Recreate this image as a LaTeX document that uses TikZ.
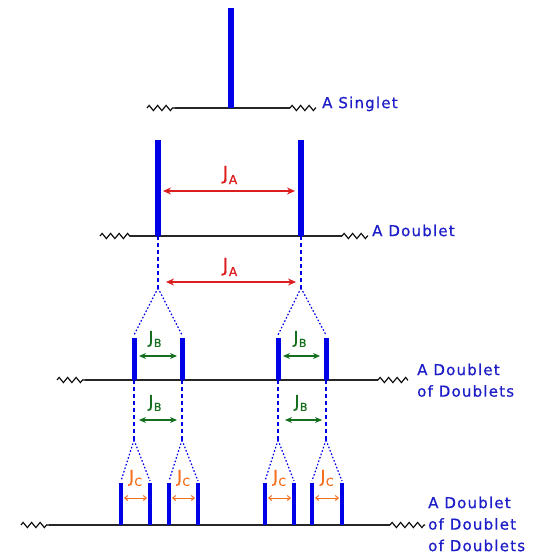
\documentclass[tikz,border=0pt]{standalone}
\usepackage{fontspec}
\setmainfont{DejaVu Sans}
\usetikzlibrary{arrows.meta,decorations.pathmorphing}
\definecolor{peakblue}{RGB}{0,0,230}
\definecolor{txtblue}{RGB}{30,30,200}
\definecolor{jared}{RGB}{220,30,30}
\definecolor{jbgreen}{RGB}{20,110,30}
\definecolor{jcorange}{RGB}{245,110,30}
\begin{document}
\begin{tikzpicture}[x=1pt,y=-1pt,
  zig/.style={decorate,decoration={zigzag,segment length=8.5pt,amplitude=2.6pt},line width=1.1pt,black},
  baseln/.style={line width=1.4pt,black!85},
  peak/.style={line width=#1,peakblue},
  vdash/.style={peakblue,line width=1.2pt,dash pattern=on 4pt off 3pt},
  vdot/.style={peakblue,line width=1.2pt,dash pattern=on 1.6pt off 2pt},
  lab/.style={inner sep=0pt,text=txtblue,font=\fontsize{15}{21.5}\selectfont\addfontfeatures{LetterSpace=8,FakeBold=0.8},align=left,anchor=north west},
  jA/.style={jared,line width=1.4pt,{Stealth[length=8pt,width=7pt]}-{Stealth[length=8pt,width=7pt]}},
  jB/.style={jbgreen,line width=1.4pt,{Stealth[length=7pt,width=6pt]}-{Stealth[length=7pt,width=6pt]}},
  jC/.style={jcorange,line width=1pt,{Straight Barb[length=3pt,width=5pt]}-{Straight Barb[length=3pt,width=5pt]}},
  jlabA/.style={inner sep=0pt,text=jared,font=\fontsize{19}{19}\selectfont\addfontfeatures{FakeBold=0.8}},
  jlabB/.style={inner sep=0pt,text=jbgreen,font=\fontsize{17}{17}\selectfont\addfontfeatures{FakeBold=0.8}},
  jlabC/.style={inner sep=0pt,text=jcorange,font=\fontsize{17}{17}\selectfont\addfontfeatures{FakeBold=0.8}},
]
\useasboundingbox (0,0) rectangle (533,556);

% ---------- Singlet ----------
\coordinate (s1z1) at (147,108); \coordinate (s1a) at (175,108);
\coordinate (s1b) at (290,108); \coordinate (s1z2) at (316,108);
\draw[zig] (s1z1) -- (s1a); \draw[baseln] (s1a) -- (s1b); \draw[zig] (s1b) -- (s1z2);
\coordinate (p0t) at (231,8); \coordinate (p0b) at (231,108);
\draw[peak=6.5pt] (p0t) -- (p0b);
\node[lab] (tsing) at (322,96.5) {A Singlet};

% ---------- Doublet ----------
\coordinate (s2z1) at (100,236); \coordinate (s2a) at (130,236);
\coordinate (s2b) at (342,236); \coordinate (s2z2) at (368,236);
\draw[zig] (s2z1) -- (s2a); \draw[baseln] (s2a) -- (s2b); \draw[zig] (s2b) -- (s2z2);
\foreach \n/\x in {1/158,2/301}{
  \coordinate (d\n t) at (\x,140); \coordinate (d\n b) at (\x,236);
  \draw[peak=5.5pt] (d\n t) -- (d\n b);
  \coordinate (d\n ap) at (\x,288);
  \draw[vdash] (d\n b) -- (d\n ap);
}
\node[lab] (tdoub) at (372,224.5) {A Doublet};
\coordinate (ja1l) at (163,191); \coordinate (ja1r) at (295,191);
\draw[jA] (ja1l) -- (ja1r);
\node[jlabA] (JA1) at (230,175) {J\kern0.5pt\raisebox{-4.5pt}{\fontsize{12.5}{12.5}\selectfont A}};
\coordinate (ja2l) at (166,282); \coordinate (ja2r) at (296,282);
\draw[jA] (ja2l) -- (ja2r);
\node[jlabA] (JA2) at (230,267) {J\kern0.5pt\raisebox{-4.5pt}{\fontsize{12.5}{12.5}\selectfont A}};

% ---------- Doublet of doublets ----------
\coordinate (s3z1) at (57,380); \coordinate (s3a) at (85,380);
\coordinate (s3b) at (378,380); \coordinate (s3z2) at (408,380);
\draw[zig] (s3z1) -- (s3a); \draw[baseln] (s3a) -- (s3b); \draw[zig] (s3b) -- (s3z2);
\foreach \n/\x/\m in {1/134/1,2/182/1,3/278/2,4/326/2}{
  \coordinate (dd\n t) at (\x,338); \coordinate (dd\n b) at (\x,380);
  \draw[peak=5pt] (dd\n t) -- (dd\n b);
  \draw[vdot] (d\m ap) -- (\x,335);
  \coordinate (dd\n ap) at (\x,440);
  \draw[vdash] (dd\n b) -- (dd\n ap);
}
\node[lab] (tdd) at (417,363.5) {A Doublet\\of Doublets};
\foreach \n/\xl/\xr/\xc in {1/139/177/155,2/283/320/300}{
  \coordinate (jb\n l) at (\xl,356); \coordinate (jb\n r) at (\xr,356);
  \draw[jB] (jb\n l) -- (jb\n r);
  \node[jlabB] (JB\n) at (\xc,339) {J\kern0.4pt\raisebox{-3.5pt}{\fontsize{11}{11}\selectfont B}};
}
\foreach \n/\xl/\xr/\xc in {3/139/177/155,4/285/322/301}{
  \coordinate (jb\n l) at (\xl,420); \coordinate (jb\n r) at (\xr,420);
  \draw[jB] (jb\n l) -- (jb\n r);
  \node[jlabB] (JB\n) at (\xc,403) {J\kern0.4pt\raisebox{-3.5pt}{\fontsize{11}{11}\selectfont B}};
}

% ---------- Doublet of doublet of doublets ----------
\coordinate (s4z1) at (21,525); \coordinate (s4a) at (49,525);
\coordinate (s4b) at (390,525); \coordinate (s4z2) at (425,525);
\draw[zig] (s4z1) -- (s4a); \draw[baseln] (s4a) -- (s4b); \draw[zig] (s4b) -- (s4z2);
\foreach \n/\x/\m in {1/121/1,2/150/1,3/169/2,4/198/2,5/265/3,6/294/3,7/312/4,8/342/4}{
  \coordinate (ddd\n t) at (\x,483); \coordinate (ddd\n b) at (\x,525);
  \draw[peak=4.5pt] (ddd\n t) -- (ddd\n b);
  \draw[vdot] (dd\m ap) -- (\x,481);
}
\foreach \n/\xl/\xr in {1/124/147,2/172/195,3/268/291,4/315/339}{
  \coordinate (jc\n l) at (\xl,498); \coordinate (jc\n r) at (\xr,498);
  \draw[jC] (jc\n l) -- (jc\n r);
  \node[jlabC] (JC\n) at ({(\xl+\xr)/2},478) {J\kern0.4pt\raisebox{-3.5pt}{\fontsize{11}{11}\selectfont C}};
}
\node[lab] (tddd) at (428,496.5) {A Doublet\\of Doublet\\of Doublets};
\end{tikzpicture}
\end{document}
